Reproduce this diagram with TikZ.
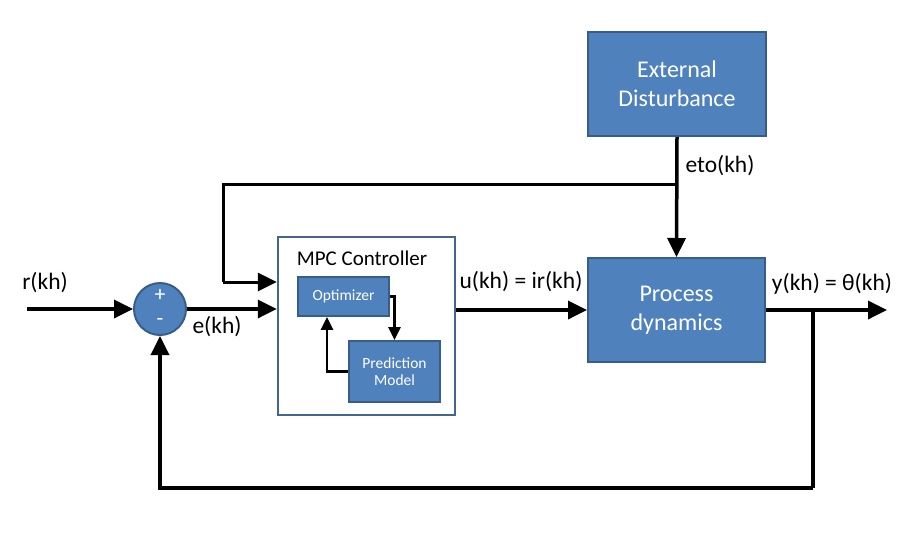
\documentclass[tikz,border=0pt]{standalone}
\usepackage{fontspec}
\setmainfont{Carlito}
\usetikzlibrary{arrows.meta}
\definecolor{boxblue}{HTML}{4F81BD}
\definecolor{boxedge}{HTML}{385D8A}
\definecolor{mpcedge}{HTML}{41668F}
\begin{document}
\begin{tikzpicture}[x=1pt,y=-1pt,
  blk/.style={draw=boxedge, line width=2pt, fill=boxblue, text=white, align=center, inner sep=0pt, font=\fontsize{24}{29}\selectfont},
  sblk/.style={draw=boxedge, line width=1.8pt, fill=boxblue, text=white, align=center, inner sep=0pt, font=\fontsize{15.5}{17}\selectfont},
  lbl/.style={font=\fontsize{23.5}{27}\selectfont, inner sep=0pt},
  main/.style={line width=3.5pt, -{Triangle[length=19pt,width=18pt]}},
  plain/.style={line width=3.5pt},
  inner/.style={line width=2.5pt, -{Triangle[length=13pt,width=12pt]}}]
\useasboundingbox (0,0) rectangle (902,539);
% blocks
\node[blk, minimum width=178pt, minimum height=104pt] (ext) at (677,84) {External\\Disturbance};
\node[blk, minimum width=177pt, minimum height=104pt] (proc) at (676.5,310) {Process\\dynamics};
\node[draw=mpcedge, line width=2.5pt, fill=white, minimum width=177pt, minimum height=178pt, inner sep=0pt] (mpc) at (366.5,326) {};
\node[font=\fontsize{21}{25}\selectfont, inner sep=0pt] (mpct) at (362,258) {MPC Controller};
\node[sblk, minimum width=91pt, minimum height=39pt] (opt) at (343.5,296.5) {Optimizer};
\node[sblk, minimum width=91pt, minimum height=61pt] (pred) at (394.5,371.5) {Prediction\\Model};
\node[circle, draw=boxedge, line width=2pt, fill=boxblue, minimum size=52pt, inner sep=0pt] (sum) at (160,309) {};
\node[text=white, font=\fontsize{22}{24}\selectfont, inner sep=0pt] (plus) at (160,295) {+};
\node[text=white, font=\fontsize{22}{24}\selectfont, inner sep=0pt] (minus) at (160,322) {-};
% coordinates
\coordinate (rin) at (27,309);
\coordinate (j) at (677,184);
\coordinate (fb) at (223,282);
\coordinate (yb) at (813,310);
\coordinate (yout) at (887,310);
\coordinate (bl) at (813,488);
% connectors
\draw[main] (rin) -- (sum.west);
\draw[main] (sum.east) -- (sum.east -| mpc.west);
\draw[main] (proc.west -| mpc.east) -- (proc.west);
\draw[main] (ext.south) -- (proc.north);
\draw[line width=3pt] (j) -| (fb);
\draw[line width=3pt, -{Triangle[length=19pt,width=18pt]}] (fb) -- (fb -| mpc.west);
\draw[main] (proc.east) -- (yout);
\draw[plain] (yb) -- (bl);
\draw[main] (bl) -| (sum.south);
\draw[inner] (opt.east) -| (pred.north);
\draw[inner] (pred.west) -| ([xshift=-16.5pt]opt.south);
% labels
\node[lbl] (lr) at (45,283) {r(kh)};
\node[lbl] (le) at (217,327) {e(kh)};
\node[lbl] (lu) at (521,282) {u(kh) = ir(kh)};
\node[lbl] (ly) at (832,284) {y(kh) = θ(kh)};
\node[lbl] (leto) at (720,166) {eto(kh)};
\end{tikzpicture}
\end{document}
